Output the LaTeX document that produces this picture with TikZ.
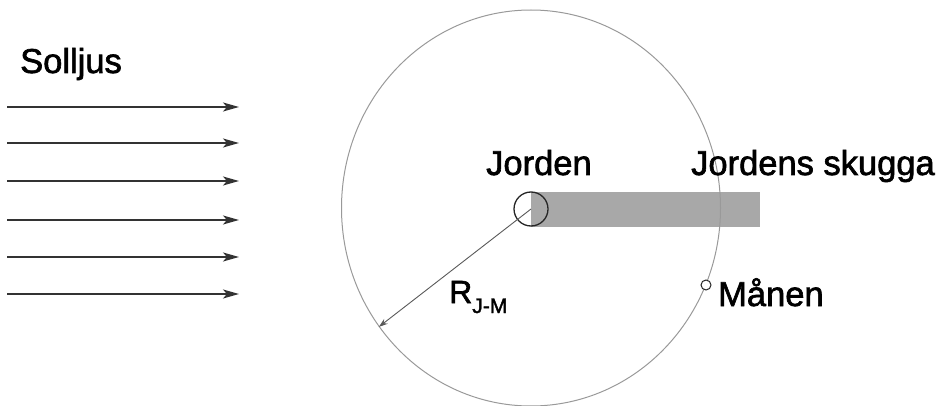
\documentclass[tikz,border=0pt]{standalone}
\usepackage{fontspec}
\setmainfont{Liberation Sans}
\newfontfamily\labfont{Liberation Sans}[RawFeature={embolden=1.8}]
\usetikzlibrary{arrows.meta,shapes.geometric}
\begin{document}
\begin{tikzpicture}[x=1pt,y=-1pt,
  lbl/.style={inner sep=0pt,anchor=base west,font=\labfont\fontsize{34.5}{34.5}\selectfont},
  ray/.style={draw=black!80,line width=1.5pt,-{Stealth[length=16pt,width=9pt,inset=4pt]}},
  orbitstyle/.style={ellipse,draw=black!40,line width=1pt,minimum width=379pt,minimum height=396pt,inner sep=0pt},
  body/.style={circle,draw=black!85,line width=1.3pt,inner sep=0pt}]
\useasboundingbox (0,0) rectangle (948,406);
% shadow
\fill[black!34] (531,192) rectangle (760,227);
% orbit
\node[orbitstyle] (orbit) at (531,208) {};
% earth and moon
\node[body,minimum size=34pt] (earth) at (531,209) {};
\node[body,minimum size=10pt,line width=1pt,fill=white] (moon) at (706,285) {};
% radius
\draw[draw=black!65,line width=0.9pt,-{Stealth[length=9pt,width=6pt]}] (earth.center) -- (orbit.218);
% sunlight rays
\foreach \i/\yy in {1/107,2/143,3/181,4/220,5/257,6/294}{
  \coordinate (s\i) at (7,\yy);
  \coordinate (e\i) at (239,\yy);
  \draw[ray] (s\i) -- (e\i);
}
% labels
\node[lbl] (solljus) at (20,73) {Solljus};
\node[lbl] (jorden) at (486,175) {Jorden};
\node[lbl] (skugga) at (691,175) {Jordens skugga};
\node[lbl] (manen) at (718,306) {Månen};
\node[lbl,font=\labfont\fontsize{32}{32}\selectfont] (rjm) at (449,303) {R\raisebox{-10pt}{\fontsize{21}{21}\selectfont J-M}};
\end{tikzpicture}
\end{document}
